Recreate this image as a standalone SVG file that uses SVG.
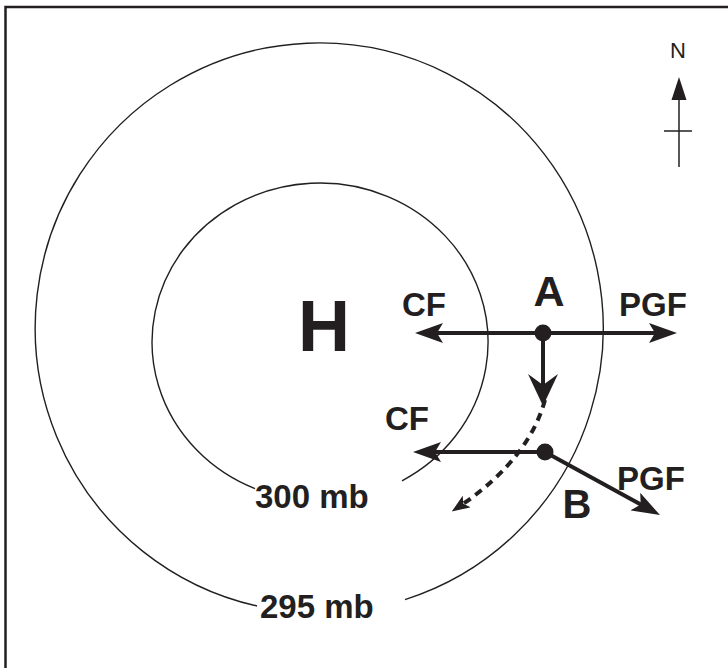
<svg xmlns="http://www.w3.org/2000/svg" width="728" height="668" viewBox="0 0 728 668">
<style>
.lbl{font-family:"Liberation Sans",Arial,sans-serif;font-weight:bold;fill:#231f20}
.iso{fill:none;stroke:#231f20;stroke-width:1.4}
.vec{stroke:#231f20;stroke-width:4;fill:none}
.dot{fill:#231f20}
</style>
<defs>
<marker id="ah" markerUnits="userSpaceOnUse" viewBox="0 0 28 20" refX="14" refY="10" markerWidth="28" markerHeight="20" orient="auto">
<path d="M0,0 L28,10 L0,20 L6,10 Z" fill="#231f20"/>
</marker>
<marker id="ahBig" markerUnits="userSpaceOnUse" viewBox="0 0 32 30" refX="14" refY="15" markerWidth="32" markerHeight="30" orient="auto">
<path d="M0,0 L32,15 L0,30 L11,15 Z" fill="#231f20"/>
</marker>
<marker id="ahSmall" markerUnits="userSpaceOnUse" viewBox="0 0 18 14" refX="8" refY="7" markerWidth="18" markerHeight="14" orient="auto">
<path d="M0,0 L18,7 L0,14 L4,7 Z" fill="#231f20"/>
</marker>
</defs>
<rect width="728" height="668" fill="#fff"/>
<rect x="5.5" y="7" width="760" height="700" fill="none" stroke="#231f20" stroke-width="2.5"/>

<g id="isobar-295">
<path class="iso" d="M257 606 A284 285 0 1 1 405 599.6"/>
<text class="lbl" x="260" y="618" font-size="33">295 mb</text>
</g>
<g id="isobar-300">
<path class="iso" d="M255 488.6 A168 159 0 1 1 402 480.8"/>
<text class="lbl" x="255" y="508" font-size="33">300 mb</text>
</g>
<g id="high">
<text class="lbl" x="324" y="351" font-size="72" text-anchor="middle">H</text>
</g>
<g id="north">
<text x="678" y="58" font-family="Liberation Sans,Arial,sans-serif" font-size="22" fill="#231f20" text-anchor="middle">N</text>
<line x1="679" y1="95" x2="679" y2="167" stroke="#231f20" stroke-width="1.5"/>
<line x1="664" y1="131" x2="692" y2="131" stroke="#231f20" stroke-width="1.5"/>
<path d="M679 77 L686.5 100 L671.5 100 Z" fill="#231f20"/>
</g>
<g id="point-A">
<text class="lbl" x="549" y="306" font-size="43" text-anchor="middle">A</text>
<circle class="dot" cx="543" cy="333" r="8.5"/>
</g>
<g id="point-B">
<text class="lbl" x="577" y="518" font-size="40" text-anchor="middle">B</text>
<circle class="dot" cx="545" cy="452" r="8.5"/>
</g>
<g id="labels">
<text class="lbl" x="402" y="316" font-size="33">CF</text>
<text class="lbl" x="619" y="316" font-size="33">PGF</text>
<text class="lbl" x="385" y="430" font-size="33">CF</text>
<text class="lbl" x="617" y="490" font-size="33">PGF</text>
</g>
<g id="connectors">
<line class="vec" x1="543" y1="333" x2="429" y2="333" marker-end="url(#ah)"/>
<line class="vec" x1="543" y1="333" x2="663" y2="333" marker-end="url(#ah)"/>
<line class="vec" x1="543" y1="333" x2="543" y2="388" stroke-width="6.5" marker-end="url(#ahBig)"/>
<line class="vec" x1="545" y1="452" x2="427" y2="452" marker-end="url(#ah)"/>
<line class="vec" x1="545" y1="452" x2="647.7" y2="508.3" marker-end="url(#ah)"/>
<path class="vec" d="M545 400 C535 436 510 472 460 506" stroke-width="1.6" stroke-dasharray="8 6" marker-end="url(#ahSmall)"/>
</g>
</svg>
